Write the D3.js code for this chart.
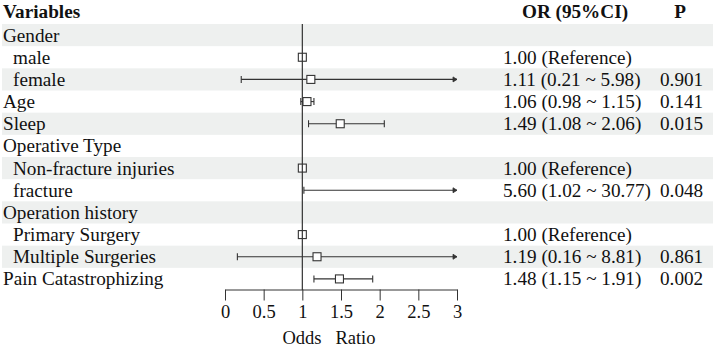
<!DOCTYPE html>
<html>
<head>
<meta charset="utf-8">
<script src="https://cdn.jsdelivr.net/npm/d3@7"></script>
<style>
  body { margin: 0; background: #fff; }
  text { font-family: "Liberation Serif", "Times New Roman", serif; fill: #111; }
  .hdr { font-weight: bold; }
</style>
</head>
<body>
<script>
// table rows
const labels = ['Gender', 'male', 'female', 'Age', 'Sleep', 'Operative Type',
  'Non-fracture injuries', 'fracture', 'Operation history', 'Primary Surgery',
  'Multiple Surgeries', 'Pain Catastrophizing']
const indent = [0, 1, 1, 0, 0, 0, 1, 1, 0, 1, 1, 0]
// null = heading row, no estimate
const est   = [null, 1.00, 1.11, 1.06, 1.49, null, 1.00, 5.60, null, 1.00, 1.19, 1.48]
const lower = [null, null, 0.21, 0.98, 1.08, null, null, 1.02, null, null, 0.16, 1.15]
const upper = [null, null, 5.98, 1.15, 2.06, null, null, 30.77, null, null, 8.81, 1.91]
const pvals = ['', '', '0.901', '0.141', '0.015', '', '', '0.048', '', '', '0.861', '0.002']
const xTicks = [0, 0.5, 1, 1.5, 2, 2.5, 3]

const W = 717, H = 348
const svg = d3.select('body').append('svg')
    .attr('width', W)
    .attr('height', H)

const y = d3.scaleBand()
    .domain(d3.range(labels.length))
    .range([24, 290])

const x = d3.scaleLinear()
    .domain([0, 3])
    .range([225, 457])

const fs = 19.2
const col = '#333'

// row shading
svg.append('g').selectAll('rect')
  .data(d3.range(labels.length).filter(i => i % 2 == 0))
  .join('rect')
    .attr('x', 2)
    .attr('y', i => y(i))
    .attr('width', 711)
    .attr('height', y.bandwidth())
    .attr('fill', '#eef0ef')

// headers
svg.append('text').attr('class', 'hdr')
    .attr('x', 3).attr('y', 18).style('font-size', fs + 'px')
    .text('Variables')
svg.append('text').attr('class', 'hdr')
    .attr('x', 575).attr('y', 18).attr('text-anchor', 'middle').style('font-size', fs + 'px')
    .text('OR (95%CI)')
svg.append('text').attr('class', 'hdr')
    .attr('x', 680).attr('y', 18).attr('text-anchor', 'middle').style('font-size', fs + 'px')
    .text('P')

const rows = svg.append('g').selectAll('g')
  .data(d3.range(labels.length))
  .join('g')
    .attr('transform', i => `translate(0,${y(i) + y.bandwidth() / 2})`)

rows.append('text')
    .attr('x', i => indent[i] ? 13 : 3)
    .attr('y', 6.5)
    .style('font-size', fs + 'px')
    .text(i => labels[i])

const f2 = d3.format('.2f')
rows.append('text')
    .attr('x', 503)
    .attr('y', 6.5)
    .style('font-size', fs + 'px')
    .text(i => est[i] == null ? '' :
      lower[i] == null ? `${f2(est[i])} (Reference)` :
      `${f2(est[i])} (${f2(lower[i])} ~ ${f2(upper[i])})`)

rows.append('text')
    .attr('x', 660)
    .attr('y', 6.5)
    .style('font-size', fs + 'px')
    .text(i => pvals[i])

// confidence intervals
const ci = rows.filter(i => lower[i] != null)
const [x0, x1] = x.domain()
ci.append('line')
    .attr('x1', i => x(Math.max(lower[i], x0)))
    .attr('x2', i => x(Math.min(upper[i], x1)))
    .attr('stroke', col).attr('stroke-width', 1.1)
// caps (or arrows if clipped)
ci.append('line')
    .attr('x1', i => x(lower[i])).attr('x2', i => x(lower[i]))
    .attr('y1', -3.5).attr('y2', 3.5)
    .attr('stroke', col).attr('stroke-width', 1.1)
ci.filter(i => upper[i] <= x1).append('line')
    .attr('x1', i => x(upper[i])).attr('x2', i => x(upper[i]))
    .attr('y1', -3.5).attr('y2', 3.5)
    .attr('stroke', col).attr('stroke-width', 1.1)
ci.filter(i => upper[i] > x1).append('path')
    .attr('d', `M${x(x1) - 4},-2.5L${x(x1)},0L${x(x1) - 4},2.5Z`)
    .attr('fill', col).attr('stroke', col).attr('stroke-width', 0.8)

// point estimates (hidden when outside the axis range)
const bs = 8
rows.filter(i => est[i] != null && est[i] <= x1).append('rect')
    .attr('x', i => x(est[i]) - bs / 2)
    .attr('y', -bs / 2)
    .attr('width', bs).attr('height', bs)
    .attr('fill', '#fff')
    .attr('stroke', col).attr('stroke-width', 1.1)

// reference line at OR = 1
svg.append('line')
    .attr('x1', x(1)).attr('x2', x(1))
    .attr('y1', y(0)).attr('y2', 290)
    .attr('stroke', col).attr('stroke-width', 1.2)

// x axis
const xAxis = d3.axisBottom(x)
    .tickValues(xTicks)
    .tickFormat(d3.format(''))
    .tickSize(11)
    .tickSizeOuter(0)
const ax = svg.append('g')
    .attr('transform', 'translate(0,289.5)')
    .call(xAxis)
ax.select('.domain').attr('stroke', col)
ax.selectAll('.tick line').attr('stroke', col)
ax.selectAll('.tick text')
    .attr('y', 15)
    .attr('dy', '0.71em')
    .style('font-size', '18.5px')
    .style('font-family', '"Liberation Serif", serif')
    .attr('fill', '#111')

svg.append('text')
    .attr('x', 329).attr('y', 344)
    .attr('text-anchor', 'middle')
    .style('font-size', '18.5px')
    .style('white-space', 'pre')
    .text('Odds   Ratio')
</script>
</body>
</html>
